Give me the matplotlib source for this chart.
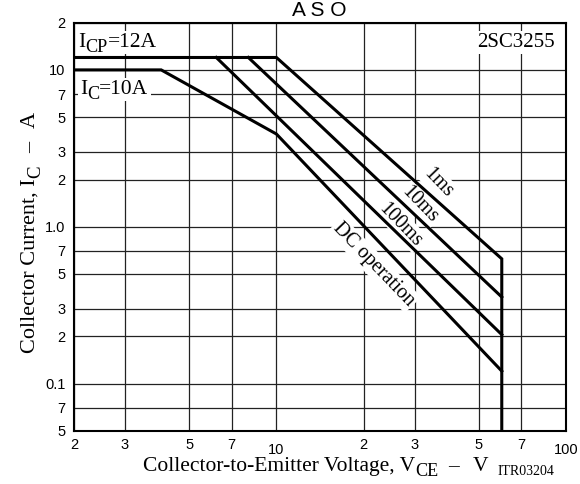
import matplotlib
matplotlib.use("Agg")
import matplotlib.pyplot as plt
from matplotlib.ticker import NullLocator
from matplotlib.transforms import offset_copy

# safe operating area curves
ms1_v = [2, 10, 60, 60]
ms1_i = [12, 12, 0.624, 0.05]
ms10_v = [8, 60]
ms10_i = [12, 0.356]
ms100_v = [6.2, 60]
ms100_i = [12, 0.205]
dc_v = [2, 4, 10, 60]
dc_i = [10, 10, 3.9, 0.12]

x_ticks = [2, 3, 5, 7, 10, 20, 30, 50, 70, 100]
x_tick_labels = ["2", "3", "5", "7", "10", "2", "3", "5", "7", "100"]
y_ticks = [0.05, 0.07, 0.1, 0.2, 0.3, 0.5, 0.7, 1, 2, 3, 5, 7, 10, 20]
y_tick_labels = ["5", "7", "0.1", "2", "3", "5", "7", "1.0", "2", "3", "5", "7", "10", "2"]

# curve labels: text, V, I
curve_labels = [("1ms", 36.2, 1.90), ("10ms", 31.3, 1.38),
                ("100ms", 26.8, 1.03), ("DC operation", 21.7, 0.573)]

SERIF = "Liberation Serif"
SANS = "Liberation Sans"

fig = plt.figure(figsize=(5.8, 4.84), dpi=100)
ax = fig.add_axes([0.1276, 0.1101, 0.8483, 0.843])
ax.set_xscale("log")
ax.set_yscale("log")
ax.set_xlim(2, 100)
ax.set_ylim(0.05, 20)

ax.set_xticks(x_ticks)
ax.set_xticklabels(x_tick_labels)
ax.set_yticks(y_ticks)
ax.set_yticklabels(y_tick_labels)
ax.xaxis.set_minor_locator(NullLocator())
ax.yaxis.set_minor_locator(NullLocator())
ax.tick_params(length=0, labelsize=10.5)
ax.tick_params(axis="x", pad=5)
ax.tick_params(axis="y", pad=6)
for lab in ax.get_xticklabels() + ax.get_yticklabels():
    lab.set_fontfamily(SANS)
xt = ax.xaxis.get_major_ticks()
xt[4].set_pad(9)
xt[9].set_pad(9)

ax.grid(True, color="#222222", lw=0.9, zorder=1)
ax.set_axisbelow(True)
for s in ax.spines.values():
    s.set_linewidth(1.5)
    s.set_color("black")

for v, i in [(ms1_v, ms1_i), (ms10_v, ms10_i), (ms100_v, ms100_i), (dc_v, dc_i)]:
    ax.plot(v, i, color="black", lw=2.2, solid_joinstyle="miter", zorder=5)

for txt, v, i in curve_labels:
    ax.text(v, i, txt, family=SERIF, fontsize=14.5, rotation=-46,
            ha="center", va="center", rotation_mode="anchor", zorder=4,
            bbox=dict(facecolor="white", edgecolor="none", pad=1.5))


def rich(x, y, parts, size, vertical=False, box=False):
    # draws text pieces one after another, subscripts a little smaller and lower
    r = fig.canvas.get_renderer()
    for layer in (["bg", "fg"] if box else ["fg"]):
        adv = 0.0
        for s, sub, gap in parts:
            adv += gap
            fs = size * 0.85 if sub else size
            drop = size * 0.25 if sub else 0.0
            if vertical:
                tr = offset_copy(fig.transFigure, fig=fig, x=drop, y=adv, units="points")
            else:
                tr = offset_copy(fig.transFigure, fig=fig, x=adv, y=-drop, units="points")
            kw = {}
            if layer == "bg":
                kw = dict(color="white", bbox=dict(facecolor="white", edgecolor="none", pad=1.5))
            t = ax.text(x, y, s, transform=tr, fontsize=fs, family=SERIF,
                        rotation=90 if vertical else 0, rotation_mode="anchor",
                        ha="left", va="baseline", clip_on=False,
                        zorder=3 if layer == "bg" else 6, **kw)
            bb = t.get_window_extent(r)
            adv += (bb.height if vertical else bb.width) * 72 / fig.dpi


rich(78 / 580, 1 - 46.7 / 484, [("I", False, 0), ("CP", True, 0), ("=12A", False, 0)], 15.5, box=True)
rich(80 / 580, 1 - 94 / 484, [("I", False, 0), ("C", True, 0), ("=10A", False, 0)], 15.5, box=True)
ax.text(555 / 580, 1 - 46.7 / 484, "2SC3255", transform=fig.transFigure,
        family=SERIF, fontsize=15, ha="right", va="baseline", zorder=4,
        bbox=dict(facecolor="white", edgecolor="none", pad=1.5))

rich(143 / 580, 1 - 471 / 484,
     [("Collector-to-Emitter Voltage, V", False, 0), ("CE", True, 0),
      ("\u2013", False, 7), ("V", False, 10)], 15.5)
fig.text(498 / 580, 1 - 475 / 484, "ITR03204", family=SERIF, fontsize=10,
         ha="left", va="baseline")

rich(35 / 580, 1 - 353 / 484,
     [("Collector Current, I", False, 0), ("C", True, 0),
      ("\u2013", False, 9), ("A", False, 10)], 16, vertical=True)

fig.text(319 / 580, 1 - 15.5 / 484, "A S O", family=SANS, fontsize=15,
         ha="center", va="baseline")

fig.savefig("out.png", dpi=100)
